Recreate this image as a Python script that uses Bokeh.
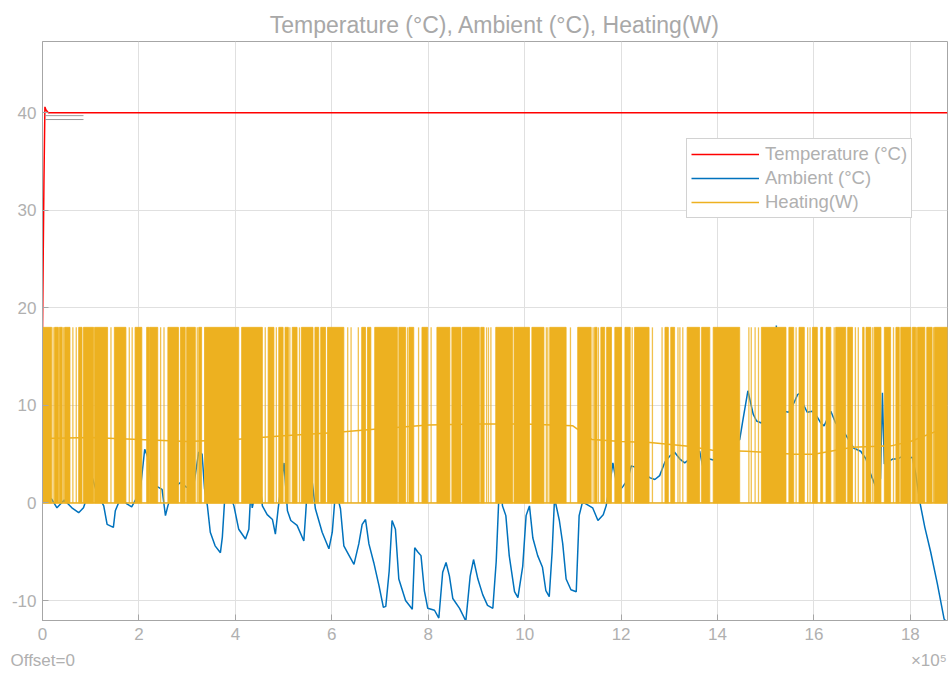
from bokeh.plotting import figure
from bokeh.models import Range1d, FixedTicker, Legend, LegendItem, Title
from bokeh.embed import file_html
from bokeh.resources import INLINE

# ---- data (time in units of 1e5 s) ----
title_text = "Temperature (\u00b0C), Ambient (\u00b0C), Heating(W)"
series_names = ["Temperature (\u00b0C)", "Ambient (\u00b0C)", "Heating(W)"]
offset_text = "Offset=0"
x_scale_text = "\u00d710\u2075"
x_ticks = [0, 2, 4, 6, 8, 10, 12, 14, 16, 18]
y_ticks = [-10, 0, 10, 20, 30, 40]
t_end = 18.77

temp_x = [0.0, 0.015, 0.03, 0.05, 0.07, 0.12, 18.77]
temp_y = [17.1, 25.3, 33.0, 40.6, 40.3, 40.0, 40.0]

setpoint_x0 = [0.05, 0.05]
setpoint_x1 = [0.85, 0.85]
setpoint_y = [39.7, 39.3]

amb_x = [0.00, 0.04, 0.19, 0.30, 0.45, 0.61, 0.75, 0.85, 0.95, 1.02, 1.13, 1.27, 1.34, 1.47,
         1.51, 1.62, 1.75, 1.85, 1.96, 2.03, 2.12, 2.20, 2.27, 2.37, 2.48, 2.55, 2.60, 2.72,
         2.86, 2.99, 3.13, 3.24, 3.31, 3.36, 3.42, 3.48, 3.58, 3.69, 3.73, 3.78, 3.88, 3.97,
         4.07, 4.21, 4.28, 4.32, 4.35, 4.49, 4.56, 4.66, 4.77, 4.83, 4.89, 5.01, 5.08, 5.15,
         5.28, 5.42, 5.46, 5.53, 5.66, 5.80, 5.94, 6.01, 6.08, 6.18, 6.25, 6.36, 6.46, 6.56,
         6.63, 6.70, 6.77, 6.87, 6.98, 7.07, 7.12, 7.19, 7.25, 7.32, 7.39, 7.53, 7.67, 7.72,
         7.78, 7.85, 7.92, 7.99, 8.13, 8.22, 8.30, 8.37, 8.44, 8.51, 8.65, 8.78, 8.87, 8.94,
         9.03, 9.13, 9.23, 9.34, 9.41, 9.46, 9.50, 9.54, 9.61, 9.68, 9.79, 9.86, 9.96, 10.03,
         10.10, 10.17, 10.27, 10.37, 10.44, 10.51, 10.57, 10.62, 10.72, 10.79, 10.86, 10.96,
         11.07, 11.13, 11.20, 11.41, 11.52, 11.63, 11.69, 11.76, 11.83, 11.87, 11.94, 12.04,
         12.14, 12.21, 12.40, 12.59, 12.70, 12.80, 12.91, 13.01, 13.11, 13.22, 13.32, 13.50,
         13.63, 13.70, 13.77, 13.84, 13.91, 14.22, 14.46, 14.53, 14.63, 14.74, 14.81, 14.91,
         15.05, 15.20, 15.22, 15.25, 15.38, 15.48, 15.59, 15.66, 15.73, 15.78, 15.86, 15.97,
         16.07, 16.14, 16.21, 16.35, 16.45, 16.63, 16.83, 16.97, 17.08, 17.18, 17.28, 17.38,
         17.42, 17.46, 17.63, 17.73, 17.84, 17.94, 18.04, 18.11, 18.20, 18.30, 18.42, 18.56,
         18.70, 18.75]
amb_y = [3.1, 0.6, 0.4, -0.5, 0.3, -0.5, -1.0, -0.5, 1.0, 2.8, 1.0, -0.3, -2.2, -2.5,
         -0.8, 0.5, -0.1, -0.4, 0.6, 1.4, 5.5, 4.5, 1.1, 1.7, 1.4, -1.3, -0.3, 1.5,
         2.1, 1.6, 1.6, 5.2, 5.0, 1.5, -0.3, -3.0, -4.4, -5.1, -3.5, 0.5, 1.0, -0.3,
         -2.7, -3.7, -2.7, 1.2, -0.5, 2.8, -0.3, -1.2, -1.7, -3.2, -0.5, 4.1, -0.8, -1.8,
         -2.3, -3.9, -1.0, 4.8, -0.6, -3.0, -4.7, -3.0, 1.4, -0.6, -4.4, -5.4, -6.3, -4.2,
         -2.2, -1.7, -4.2, -6.1, -8.5, -10.7, -10.6, -7.0, -1.8, -2.7, -7.8, -10.0, -10.9, -4.6,
         -5.0, -5.4, -9.0, -10.8, -11.0, -11.8, -7.1, -6.1, -7.5, -9.8, -10.8, -12.1, -7.5, -5.8,
         -7.8, -9.4, -10.5, -10.8, -6.0, 0.0, 2.0, -0.3, -1.3, -5.4, -9.1, -9.7, -6.5, -1.3,
         -0.3, -3.6, -5.4, -6.6, -9.0, -9.6, -5.0, 0.5, -1.8, -4.2, -7.8, -8.9,
         -9.1, -1.3, 0.1, -0.5, -1.8, -1.2, -0.3, 1.7, 4.1, 3.0, 1.1, 1.7,
         2.4, 3.8, 3.5, 2.6, 2.4, 2.8, 4.2, 4.8, 5.2, 4.5, 4.1, 4.8,
         5.3, 3.6, 4.8, 4.5, 4.4, 5.9, 6.5, 8.6, 11.5, 9.1, 8.4, 8.2,
         9.0, 9.5, 18.2, 9.8, 9.4, 9.3, 10.3, 11.1, 11.3, 10.1, 9.3, 9.4,
         8.8, 8.2, 7.9, 9.4, 8.2, 7.2, 5.6, 5.3, 4.5, 2.9, 1.7, 2.5,
         11.3, 4.0, 4.5, 4.5, 4.8, 4.5, 4.7, 3.0, 0.0, -2.5, -5.0, -8.3,
         -11.9, -12.2]

# heating: bursts of full-power switching, isolated switching pulses and the averaged level
heat_high = 18.0
heat_low = 0.0
heat_on = [0.01, 0.25, 0.35, 0.46, 0.75, 0.85, 1.08, 1.49, 1.92, 2.16, 2.23, 2.60, 2.86, 2.99,
           3.24, 3.36, 4.13, 4.68, 4.90, 5.03, 5.18, 5.37, 5.65, 5.77, 5.91, 6.62, 6.74, 6.89,
           7.39, 7.60, 7.87, 8.18, 8.49, 8.71, 9.09, 9.40, 9.78, 10.15, 10.52, 11.10, 11.45,
           11.58, 11.70, 11.87, 12.08, 12.28, 12.91, 13.03, 13.37, 13.67, 13.91, 14.91, 15.48,
           15.69, 15.97, 16.14, 16.25, 16.45, 16.70, 17.01, 17.08, 17.25, 17.46, 17.70, 17.80,
           18.04, 18.15, 18.34, 18.50]
heat_off = [0.19, 0.33, 0.41, 0.57, 0.82, 1.06, 1.35, 1.73, 2.06, 2.22, 2.39, 2.82, 2.96, 3.17,
            3.30, 4.07, 4.56, 4.80, 4.99, 5.10, 5.28, 5.61, 5.73, 5.87, 6.25, 6.70, 6.81, 7.36,
            7.53, 7.70, 7.99, 8.45, 8.68, 9.06, 9.16, 9.75, 10.10, 10.40, 10.86, 11.38, 11.50,
            11.66, 11.80, 12.01, 12.19, 12.58, 12.98, 13.11, 13.63, 13.84, 14.46, 15.42, 15.58,
            15.80, 16.07, 16.18, 16.35, 16.66, 16.80, 17.04, 17.18, 17.39, 17.59, 17.77, 18.01,
            18.11, 18.30, 18.45, 18.77]
heat_pulse_x = [0.22, 0.44, 0.63, 0.70, 1.42, 1.80, 1.86, 2.45, 2.52, 3.21, 4.62, 4.85, 5.13,
                5.33, 6.33, 6.40, 6.55, 7.57, 7.80, 8.06, 9.21, 9.25, 9.30, 10.45, 10.48, 10.95,
                11.42, 11.53, 12.23, 12.65, 12.85, 13.18, 13.22, 13.28, 14.65, 14.70, 14.78,
                14.85, 15.63, 15.87, 15.92, 16.42, 16.86, 16.92, 17.22, 17.65, 18.13, 18.48]
heat_avg_x = [0.0, 1.0, 2.0, 3.0, 4.0, 5.0, 6.0, 7.0, 8.0, 9.0, 10.0, 11.0, 11.4, 12.0, 12.6,
              13.4, 13.9, 14.6, 15.6, 16.0, 16.8, 17.6, 18.0, 18.77]
heat_avg_y = [6.6, 6.7, 6.5, 6.3, 6.5, 6.9, 7.2, 7.6, 8.0, 8.1, 8.1, 7.9, 6.5, 6.3, 6.2,
              5.8, 5.4, 5.3, 5.0, 5.0, 5.7, 5.85, 6.3, 7.8]

RED = "#FF0000"
BLUE = "#0072BD"
ORANGE = "#EDB120"
FRAME = "#a6a6a6"
TEXT = "#b0b0b0"
GRID = "#e0e0e0"
FONT = "Liberation Sans"

p = figure(width=949, height=678, x_range=Range1d(0, t_end), y_range=Range1d(-12.05, 47.3),
           output_backend="svg", toolbar_location=None,
           min_border_left=42, min_border_right=2, min_border_top=41, min_border_bottom=58,
           background_fill_color="white", border_fill_color="white",
           outline_line_color=FRAME, outline_line_width=1)

p.title.text = title_text
p.title.align = "center"
p.title.text_font = FONT
p.title.text_font_size = "23px"
p.title.text_font_style = "normal"
p.title.text_color = "#a8a8a8"
p.title.standoff = 8

for ax in (p.xaxis, p.yaxis):
    ax.axis_line_color = FRAME
    ax.major_tick_line_color = FRAME
    ax.major_tick_in = 6
    ax.major_tick_out = 0
    ax.minor_tick_line_color = None
    ax.major_label_text_font = FONT
    ax.major_label_text_font_size = "17px"
    ax.major_label_text_color = TEXT
p.xaxis.ticker = FixedTicker(ticks=x_ticks)
p.yaxis.ticker = FixedTicker(ticks=y_ticks)
p.yaxis.major_label_overrides = {t: str(t) for t in y_ticks}
p.xaxis.major_label_standoff = 7
p.yaxis.major_label_standoff = 6
p.xgrid.ticker = FixedTicker(ticks=x_ticks)
p.ygrid.ticker = FixedTicker(ticks=y_ticks)
p.grid.grid_line_color = GRID
p.grid.grid_line_width = 1

# temperature
r_temp = p.line(temp_x, temp_y, line_color=RED, line_width=1.5)
p.segment(x0=setpoint_x0, y0=setpoint_y, x1=setpoint_x1, y1=setpoint_y,
          line_color="#9a9a9a", line_width=1)

# ambient
r_amb = p.line(amb_x, amb_y, line_color=BLUE, line_width=1.5)

# heating
p.line(heat_avg_x, heat_avg_y, line_color=ORANGE, line_width=1.5)
r_heat = p.line([heat_on[0], heat_off[-1]], [heat_low, heat_low], line_color=ORANGE, line_width=1.5)
p.quad(left=heat_on, right=heat_off, bottom=heat_low, top=heat_high,
       fill_color=ORANGE, line_color=ORANGE, line_width=0.8)
p.segment(x0=heat_pulse_x, y0=[heat_low] * len(heat_pulse_x), x1=heat_pulse_x,
          y1=[heat_high] * len(heat_pulse_x), line_color=ORANGE, line_width=1.3, line_alpha=0.8)

legend = Legend(items=[LegendItem(label=series_names[0], renderers=[r_temp]),
                       LegendItem(label=series_names[1], renderers=[r_amb]),
                       LegendItem(label=series_names[2], renderers=[r_heat])],
                location=(644, 402))
legend.label_text_font = FONT
legend.label_text_font_size = "18.5px"
legend.label_text_color = TEXT
legend.glyph_width = 68
legend.glyph_height = 20
legend.label_height = 20
legend.spacing = 2
legend.padding = 4
legend.margin = 0
legend.label_standoff = 6
legend.border_line_color = FRAME
legend.background_fill_color = "white"
legend.background_fill_alpha = 1
p.add_layout(legend)

# footer row: offset note on the left, x scale factor on the right
footer = offset_text + "\u00a0" * 177 + x_scale_text
p.add_layout(Title(text=footer, align="left", offset=-32, standoff=13,
                   text_font=FONT, text_font_size="17px", text_font_style="normal",
                   text_color=TEXT), "below")

open("out.html", "w").write(file_html(p, INLINE))
